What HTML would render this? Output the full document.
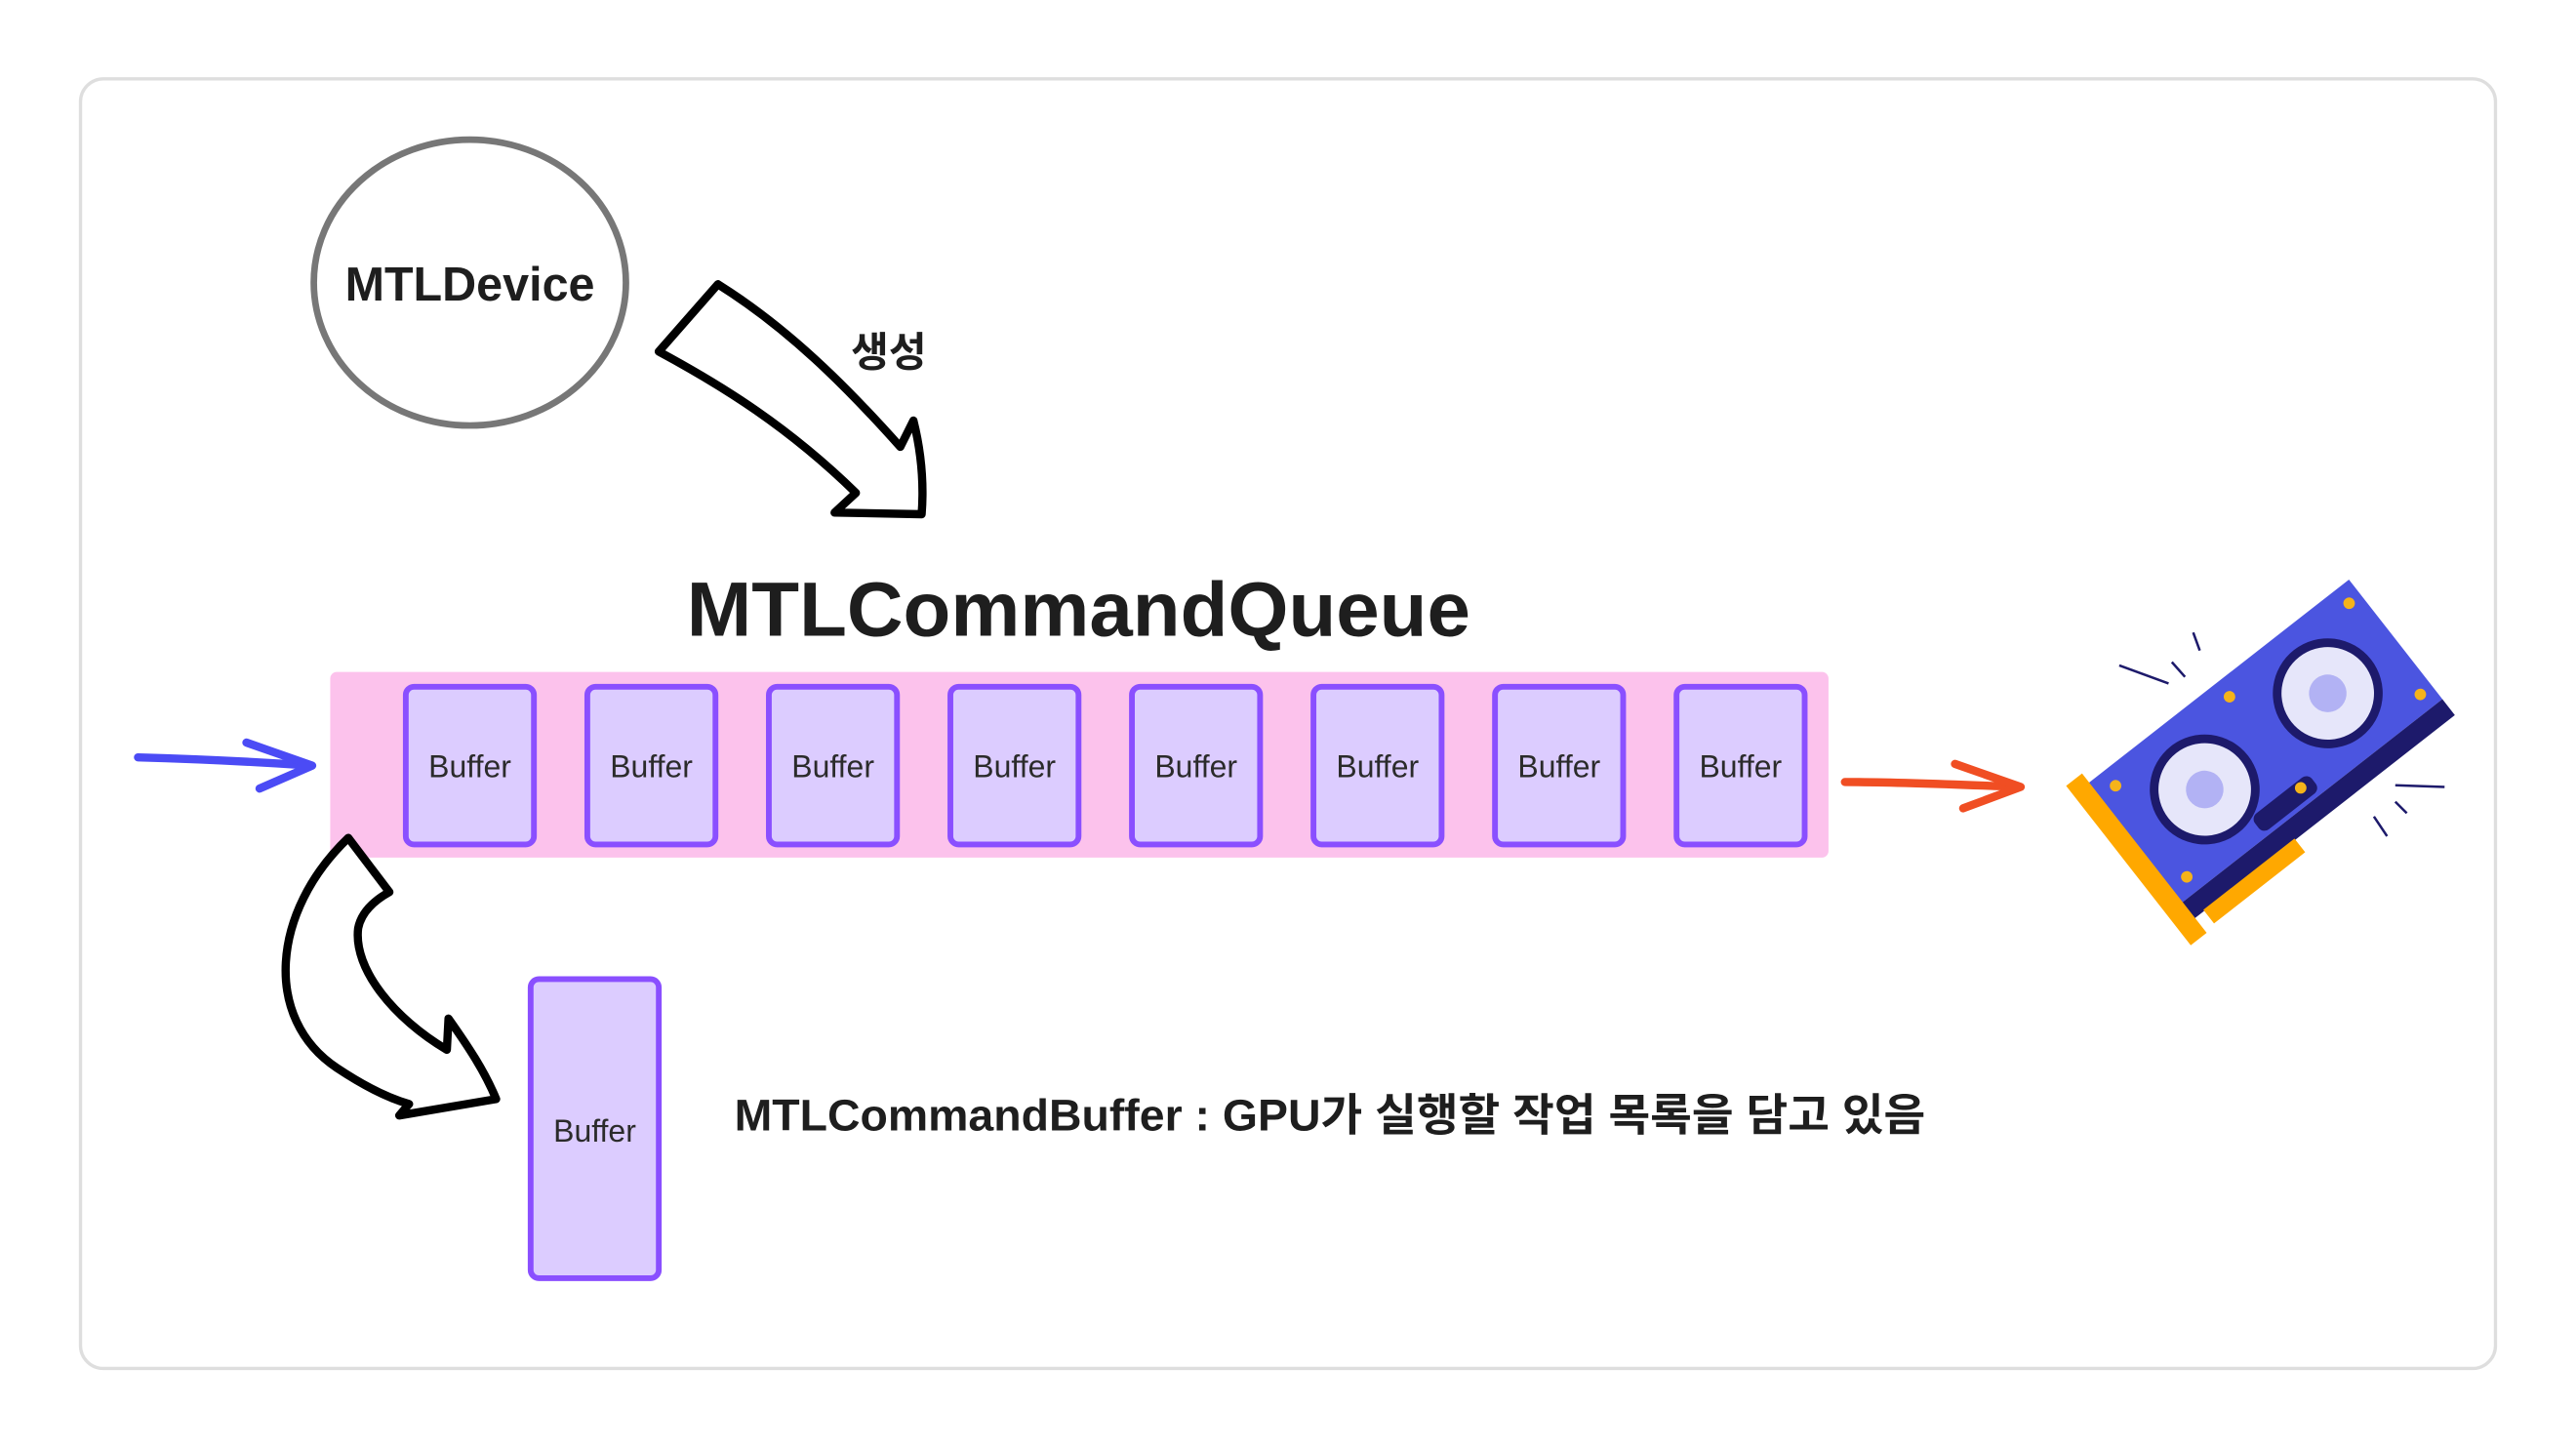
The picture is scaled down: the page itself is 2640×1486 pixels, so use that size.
<!DOCTYPE html>
<html><head><meta charset="utf-8"><style>
html,body{margin:0;padding:0;background:#fff;}
svg{display:block}
text{font-family:"Liberation Sans","Noto Sans CJK KR",sans-serif;}
</style></head><body>
<svg width="2640" height="1486" viewBox="0 0 1568 882.6" xmlns="http://www.w3.org/2000/svg">
<rect x="49" y="48" width="1470" height="785" rx="14" fill="#fff" stroke="#dedede" stroke-width="2"/>
<ellipse cx="286" cy="172" rx="95" ry="87" fill="#fff" stroke="#777" stroke-width="4"/>
<text x="286" y="183" text-anchor="middle" font-size="29" font-weight="bold" fill="#1e1e1e" textLength="152" lengthAdjust="spacingAndGlyphs">MTLDevice</text>
<path d="M437,173 C480,200 515,235 548,272 L556,256 C562,280 562,300 561,313 L508,312 L521,300 C480,260 440,235 401,214 Z" fill="#fff" stroke="#000" stroke-width="5" stroke-linejoin="round"/>
<text x="541" y="223" text-anchor="middle" font-size="25" font-weight="bold" fill="#1e1e1e">생성</text>
<text x="418" y="387" font-size="47" font-weight="bold" fill="#1e1e1e" textLength="477" lengthAdjust="spacingAndGlyphs">MTLCommandQueue</text>
<rect x="201" y="409" width="912" height="113" rx="4" fill="#fcc2ec"/>
<g fill="#dcccff" stroke="#8a4fff" stroke-width="3.5">
<rect x="247" y="418" width="78" height="96" rx="5"/>
<rect x="357.5" y="418" width="78" height="96" rx="5"/>
<rect x="468" y="418" width="78" height="96" rx="5"/>
<rect x="578.5" y="418" width="78" height="96" rx="5"/>
<rect x="689" y="418" width="78" height="96" rx="5"/>
<rect x="799.5" y="418" width="78" height="96" rx="5"/>
<rect x="910" y="418" width="78" height="96" rx="5"/>
<rect x="1020.5" y="418" width="78" height="96" rx="5"/>
<rect x="323" y="596" width="78" height="182" rx="5"/>
</g>
<g font-size="19" fill="#2b2b2b" text-anchor="middle">
<text x="286" y="473">Buffer</text>
<text x="396.5" y="473">Buffer</text>
<text x="507" y="473">Buffer</text>
<text x="617.5" y="473">Buffer</text>
<text x="728" y="473">Buffer</text>
<text x="838.5" y="473">Buffer</text>
<text x="949" y="473">Buffer</text>
<text x="1059.5" y="473">Buffer</text>
<text x="362" y="695">Buffer</text>
</g>
<g stroke="#4b4bf5" stroke-width="5" fill="none" stroke-linecap="round" stroke-linejoin="round">
<path d="M84,461 C120,462 160,464 189,466"/>
<path d="M150,452 L190,466 L158,480"/>
</g>
<g stroke="#f04e23" stroke-width="5" fill="none" stroke-linecap="round" stroke-linejoin="round">
<path d="M1123,476 C1160,476 1200,478 1229,479"/>
<path d="M1190,465 L1230,479 L1195,492"/>
</g>
<path d="M212,510 C165,555 160,620 205,650 C220,660 235,668 249,672 L243,679 L302,669 C295,652 285,637 273,620 L272,639 C240,620 215,590 218,565 C220,555 228,548 237,543 Z" fill="#fff" stroke="#000" stroke-width="5" stroke-linejoin="round"/>
<text x="447" y="688" font-size="27" font-weight="bold" fill="#1e1e1e" textLength="725" lengthAdjust="spacingAndGlyphs">MTLCommandBuffer : GPU가 실행할 작업 목록을 담고 있음</text>
<!-- GPU -->
<g transform="translate(1378,458) rotate(-38) scale(0.88)">
<rect x="-110" y="-58" width="230" height="105" fill="#4b55e0"/>
<rect x="-110" y="47" width="230" height="14" fill="#1d1a6b"/>
<circle cx="-48" cy="-5" r="38" fill="#1d1a6b"/>
<circle cx="-48" cy="-5" r="32" fill="#e6e6fa"/>
<circle cx="-48" cy="-5" r="13" fill="#b2b2f4"/>
<circle cx="60" cy="-5" r="38" fill="#1d1a6b"/>
<circle cx="60" cy="-5" r="32" fill="#e6e6fa"/>
<circle cx="60" cy="-5" r="13" fill="#b2b2f4"/>
<rect x="-35" y="30" width="50" height="14" rx="5" fill="#1d1a6b"/>
<rect x="-122" y="-66" width="14" height="140" fill="#ffa800"/>
<rect x="-100" y="60" width="80" height="12" fill="#ffa800"/>
<g fill="#f5b31a"><circle cx="-95" cy="-45" r="4"/><circle cx="110" cy="-45" r="4"/><circle cx="-95" cy="35" r="4"/><circle cx="110" cy="35" r="4"/><circle cx="5" cy="-45" r="4"/><circle cx="5" cy="35" r="4"/></g>
</g>
<g stroke="#1d1a6b" stroke-width="1.5">
<line x1="1290" y1="405" x2="1320" y2="416"/><line x1="1322" y1="403" x2="1330" y2="412"/><line x1="1335" y1="385" x2="1339" y2="396"/>
<line x1="1458" y1="478" x2="1488" y2="479"/><line x1="1458" y1="488" x2="1465" y2="495"/><line x1="1445" y1="497" x2="1453" y2="509"/>
</g>
</svg>
</body></html>
